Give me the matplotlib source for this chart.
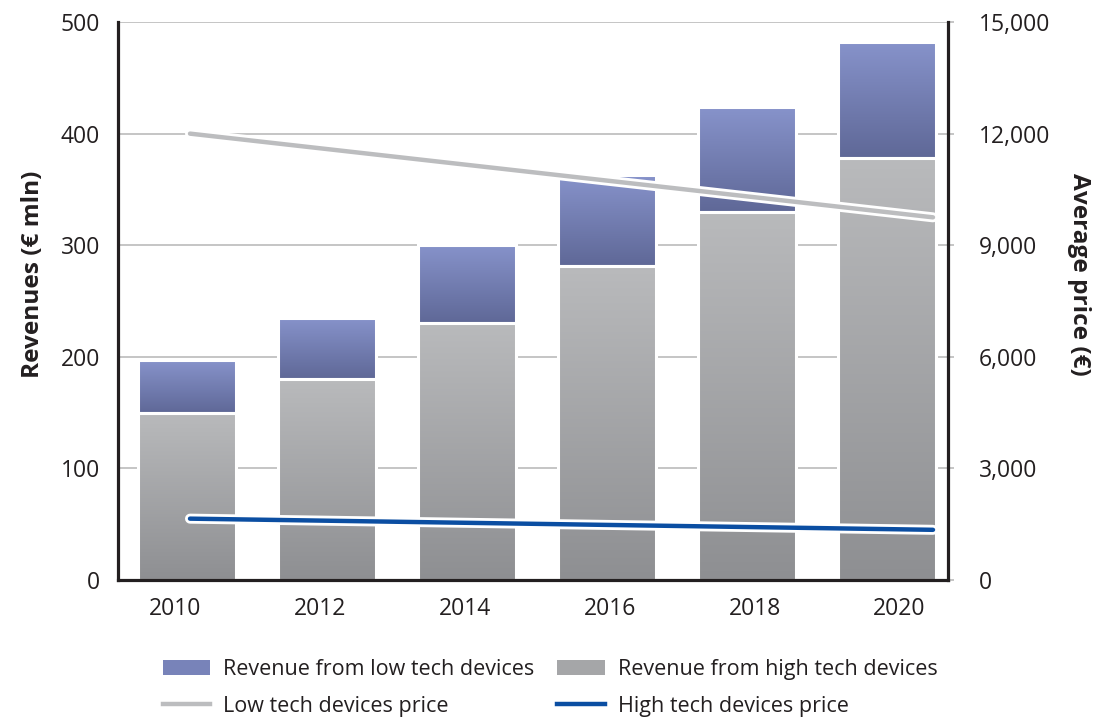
import numpy as np
import matplotlib
matplotlib.use("Agg")
import matplotlib.pyplot as plt
from matplotlib.colors import LinearSegmentedColormap
from matplotlib.patches import Patch
from matplotlib.lines import Line2D
import matplotlib.patheffects as pe
from matplotlib.ticker import FuncFormatter, MultipleLocator

plt.rcParams['font.family'] = ['Open Sans', 'DejaVu Sans']

# ---------------- data ----------------
years = ['2010', '2012', '2014', '2016', '2018', '2020']
rev_high = [150, 180, 230, 281, 330, 378]
rev_low = [47, 55, 70, 82, 94, 104]
price_low = [12000, 11550, 11100, 10650, 10200, 9750]
price_high = [1650, 1590, 1530, 1470, 1410, 1350]

labels = ['Revenue from low tech devices', 'Low tech devices price',
          'Revenue from high tech devices', 'High tech devices price']

# ---------------- style ----------------
TXT = '#231f20'
GRID = '#b5b5b5'
HIGH_TOP, HIGH_BOT = '#b9babc', '#8e8f92'
LOW_TOP, LOW_BOT = '#8793cb', '#5f6897'
LINE_LOW = '#bcbdbf'
LINE_HIGH = '#0b4ea2'
FS = 16.5
FS_LAB = 17.6
FS_LEG = 15.5

fig = plt.figure(figsize=(11.08, 7.2), dpi=100)
rect = [0.1065, 0.1944, 0.7491, 0.775]

# bars axis
ax = fig.add_axes(rect)
xb = np.arange(len(years))
bw = 0.70
bars_h = ax.bar(xb, rev_high, width=bw, facecolor='none', edgecolor='white',
                linewidth=2.2, zorder=3)
bars_l = ax.bar(xb, rev_low, bottom=rev_high, width=bw, facecolor='none',
                edgecolor='white', linewidth=2.2, zorder=3)

grad = np.linspace(0, 1, 256).reshape(-1, 1)
cm_high = LinearSegmentedColormap.from_list('h', [HIGH_TOP, HIGH_BOT])
cm_low = LinearSegmentedColormap.from_list('l', [LOW_TOP, LOW_BOT])


def fill_gradient(patch, cmap):
    x0, y0 = patch.get_x(), patch.get_y()
    w, h = patch.get_width(), patch.get_height()
    im = ax.imshow(grad, cmap=cmap, extent=[x0, x0 + w, y0, y0 + h],
                   origin='upper', aspect='auto', zorder=2,
                   interpolation='bilinear')
    im.set_clip_path(patch)


for p in bars_h:
    fill_gradient(p, cm_high)
for p in bars_l:
    fill_gradient(p, cm_low)

ax.set_xlim(-0.493, 5.436)
ax.set_ylim(0, 500)
ax.set_aspect('auto')
ax.yaxis.set_major_locator(MultipleLocator(100))
ax.set_xticks([])
ax.grid(axis='y', color=GRID, linewidth=1.1)
ax.set_axisbelow(True)
ax.tick_params(axis='y', length=0, pad=13, labelsize=FS, labelcolor=TXT)
for s in ['top', 'right']:
    ax.spines[s].set_visible(False)
for s in ['left', 'bottom']:
    ax.spines[s].set_color(TXT)
    ax.spines[s].set_linewidth(2.3)
    ax.spines[s].set_zorder(6)
ax.set_ylabel('Revenues (€ mln)', fontsize=FS_LAB, fontweight='bold', color=TXT)
ax.yaxis.set_label_coords(-0.088, 0.548)

# right axis
ax_r = ax.twinx()
ax_r.set_ylim(0, 15000)
ax_r.yaxis.set_major_locator(MultipleLocator(3000))
ax_r.yaxis.set_major_formatter(FuncFormatter(lambda v, p: f'{int(v):,}'))
ax_r.tick_params(axis='y', length=4, width=1.1, color=GRID, pad=18,
                 labelsize=FS, labelcolor=TXT)
for s in ['top', 'left', 'bottom']:
    ax_r.spines[s].set_visible(False)
ax_r.spines['right'].set_color(TXT)
ax_r.spines['right'].set_linewidth(2.3)
ax_r.set_ylabel('Average price (€)', fontsize=FS_LAB, fontweight='bold',
                color=TXT, rotation=270)
ax_r.yaxis.set_label_coords(1.172, 0.548)

# lines axis
ax_line = fig.add_axes(rect, frameon=False)
xl = np.arange(len(years))
stroke = [pe.Stroke(linewidth=7.2, foreground='white'), pe.Normal()]
ax_line.plot(xl, price_low, color=LINE_LOW, linewidth=3.2,
             solid_capstyle='round', path_effects=stroke)
ax_line.plot(xl, price_high, color=LINE_HIGH, linewidth=3.2,
             solid_capstyle='round', path_effects=stroke)
ax_line.set_xlim(-0.4845, 5.101)
ax_line.set_ylim(0, 15000)
ax_line.set_xticks([])
ax_line.set_yticks([])

# category labels axis
ax_lab = fig.add_axes(rect, frameon=False)
ax_lab.set_xlim(-0.393, 5.335)
ax_lab.set_xticks(np.arange(len(years)))
ax_lab.set_xticklabels(years)
ax_lab.set_yticks([])
ax_lab.tick_params(axis='x', length=0, pad=12, labelsize=FS, labelcolor=TXT)
ax_lab.patch.set_alpha(0)

# legend
handles = [Patch(facecolor='#7883b9', edgecolor='none'),
           Line2D([], [], color=LINE_LOW, linewidth=3.2),
           Patch(facecolor='#a5a6a8', edgecolor='none'),
           Line2D([], [], color=LINE_HIGH, linewidth=3.2)]
leg = fig.legend(handles, labels, ncol=2, loc='center',
                 bbox_to_anchor=(0.4964, 0.0445), frameon=False,
                 fontsize=FS_LEG, handlelength=2.2, handletextpad=0.6,
                 columnspacing=1.07, labelspacing=0.73, borderpad=0)
for t in leg.get_texts():
    t.set_color(TXT)

fig.savefig('out.png', dpi=100)
